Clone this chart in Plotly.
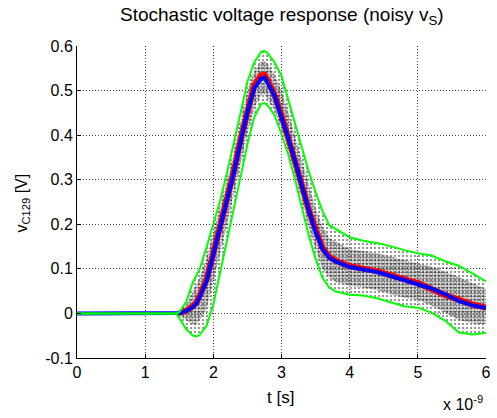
import plotly.graph_objects as go

# time axis in ns (plotted with "x 10^-9" multiplier)
t = [0, 1.4, 1.45, 1.5, 1.6, 1.7, 1.75, 1.8, 1.9, 2.0, 2.1, 2.2, 2.3, 2.4, 2.5, 2.6, 2.7, 2.75, 2.8,
     2.9, 3.0, 3.1, 3.2, 3.3, 3.4, 3.5, 3.6, 3.7, 3.8, 4.0, 4.2, 4.4, 4.6, 4.8, 5.0, 5.2, 5.4,
     5.6, 5.8, 6.0]

mean_pred = [0, 0, 0, 0.001, 0.005, 0.014, 0.022, 0.037, 0.072, 0.132, 0.19, 0.25, 0.315, 0.385,
             0.452, 0.505, 0.527, 0.529, 0.517, 0.487, 0.442, 0.393, 0.341, 0.285, 0.231, 0.183,
             0.145, 0.125, 0.116, 0.104, 0.099, 0.093, 0.084, 0.075, 0.066, 0.056, 0.043, 0.028,
             0.018, 0.012]

t_mc = t[3:]
mean_mc = [0.001, 0.006, 0.016, 0.024, 0.04, 0.076, 0.135, 0.193, 0.253, 0.318, 0.39,
           0.458, 0.512, 0.534, 0.535, 0.522, 0.49, 0.445, 0.396, 0.343, 0.287, 0.232, 0.184,
           0.147, 0.127, 0.118, 0.106, 0.101, 0.095, 0.086, 0.077, 0.068, 0.055, 0.041, 0.031,
           0.02, 0.013]

upper = [0, 0, 0, 0.003, 0.025, 0.07, 0.085, 0.1, 0.148, 0.2, 0.253, 0.315, 0.38, 0.45, 0.52, 0.563,
         0.587, 0.589, 0.583, 0.563, 0.533, 0.479, 0.427, 0.374, 0.318, 0.272, 0.23, 0.198, 0.189,
         0.171, 0.163, 0.158, 0.151, 0.142, 0.135, 0.13, 0.117, 0.107, 0.09, 0.072]

lower = [0, 0, 0, -0.01, -0.035, -0.05, -0.052, -0.048, -0.028, 0.02, 0.09, 0.165, 0.235, 0.307,
         0.38, 0.44, 0.47, 0.472, 0.466, 0.444, 0.402, 0.356, 0.3, 0.236, 0.175, 0.123, 0.08,
         0.058, 0.049, 0.042, 0.04, 0.034, 0.025, 0.016, 0.013, 0.002, -0.016, -0.043, -0.047,
         -0.044]

# dense part of the Monte Carlo sample cloud
cloud_hi = [0, 0, 0, 0.005, 0.018, 0.05, 0.065, 0.08, 0.125, 0.18, 0.235, 0.295, 0.36, 0.43, 0.5,
            0.545, 0.565, 0.566, 0.56, 0.535, 0.5, 0.45, 0.395, 0.34, 0.285, 0.235, 0.195, 0.17,
            0.16, 0.145, 0.14, 0.135, 0.128, 0.12, 0.112, 0.105, 0.094, 0.082, 0.068, 0.055]
cloud_lo = [0, 0, 0, -0.005, -0.015, -0.025, -0.025, -0.015, 0.01, 0.07, 0.135, 0.2, 0.27, 0.34,
            0.405, 0.46, 0.49, 0.492, 0.48, 0.455, 0.415, 0.37, 0.315, 0.255, 0.195, 0.145, 0.1,
            0.08, 0.07, 0.062, 0.058, 0.052, 0.044, 0.035, 0.03, 0.018, 0.002, -0.015, -0.022,
            -0.025]

x_ticks = [0, 1, 2, 3, 4, 5, 6]
x_ticktext = ["0", "1", "2", "3", "4", "5", "6"]
y_ticks = [-0.1, 0, 0.1, 0.2, 0.3, 0.4, 0.5, 0.6]
y_ticktext = ["-0.1", "0", "0.1", "0.2", "0.3", "0.4", "0.5", "0.6"]

FONT = "Liberation Sans, Arial, sans-serif"
TR = "rgba(0,0,0,0)"

fig = go.Figure()

# sparse sample cloud between the envelopes
fig.add_trace(go.Scatter(x=t, y=upper, mode="lines", line=dict(width=0, color=TR),
                         showlegend=False, hoverinfo="skip"))
fig.add_trace(go.Scatter(x=t, y=lower, mode="lines", line=dict(width=0, color=TR),
                         fill="tonexty", fillcolor=TR,
                         fillpattern=dict(shape=".", fgcolor="black", size=4,
                                          solidity=0.22, fillmode="overlay"),
                         showlegend=False, hoverinfo="skip"))
# dense sample cloud
fig.add_trace(go.Scatter(x=t, y=cloud_hi, mode="lines", line=dict(width=0, color=TR),
                         showlegend=False, hoverinfo="skip"))
fig.add_trace(go.Scatter(x=t, y=cloud_lo, mode="lines", line=dict(width=0, color=TR),
                         fill="tonexty", fillcolor=TR,
                         fillpattern=dict(shape=".", fgcolor="black", size=3,
                                          solidity=0.6, fillmode="overlay"),
                         showlegend=False, hoverinfo="skip"))

# Monte Carlo mean (red) and predicted mean (blue)
fig.add_trace(go.Scatter(x=t_mc, y=mean_mc, mode="lines",
                         line=dict(color="rgb(255,0,0)", width=6), showlegend=False))
fig.add_trace(go.Scatter(x=t, y=mean_pred, mode="lines",
                         line=dict(color="rgb(0,0,255)", width=4),
                         showlegend=False))
# envelopes
fig.add_trace(go.Scatter(x=t, y=upper, mode="lines",
                         line=dict(color="rgb(0,255,0)", width=2), showlegend=False))
fig.add_trace(go.Scatter(x=t, y=lower, mode="lines",
                         line=dict(color="rgb(0,255,0)", width=2), showlegend=False))

grid = dict(showgrid=True, gridcolor="rgb(70,70,70)", griddash="1px,2px", gridwidth=1,
            zeroline=False, showline=True, linecolor="black", linewidth=1,
            ticks="inside", ticklen=4, tickcolor="black",
            tickfont=dict(family=FONT, size=16, color="black"))

fig.update_xaxes(range=[0, 6], tickvals=x_ticks, ticktext=x_ticktext, **grid)
fig.update_yaxes(range=[-0.1, 0.6], tickvals=y_ticks, ticktext=y_ticktext, **grid)

ann = [
    dict(text="Stochastic voltage response (noisy v<sub>S</sub>)", x=0.5, y=1.095,
         font=dict(size=19)),
    dict(text="t [s]", x=0.4976, y=-0.125, font=dict(size=17)),
    dict(text="x 10<sup>-9</sup>", x=0.889, y=-0.145, xanchor="left", font=dict(size=16)),
    dict(text="v<sub>C129</sub> [V]", x=-0.133, y=0.497, textangle=-90, font=dict(size=16)),
]
for a in ann:
    a.setdefault("xanchor", "center")
    a.update(xref="paper", yref="paper", yanchor="middle", showarrow=False)
    a["font"].update(family=FONT, color="black")

fig.update_layout(width=497, height=418, margin=dict(l=77, r=6, t=46, b=60),
                  paper_bgcolor="white", plot_bgcolor="white", annotations=ann,
                  showlegend=False)

fig.write_html("out.html", config={"displayModeBar": False},
               post_script="document.body.style.margin='0px';document.body.style.overflow='hidden';")
